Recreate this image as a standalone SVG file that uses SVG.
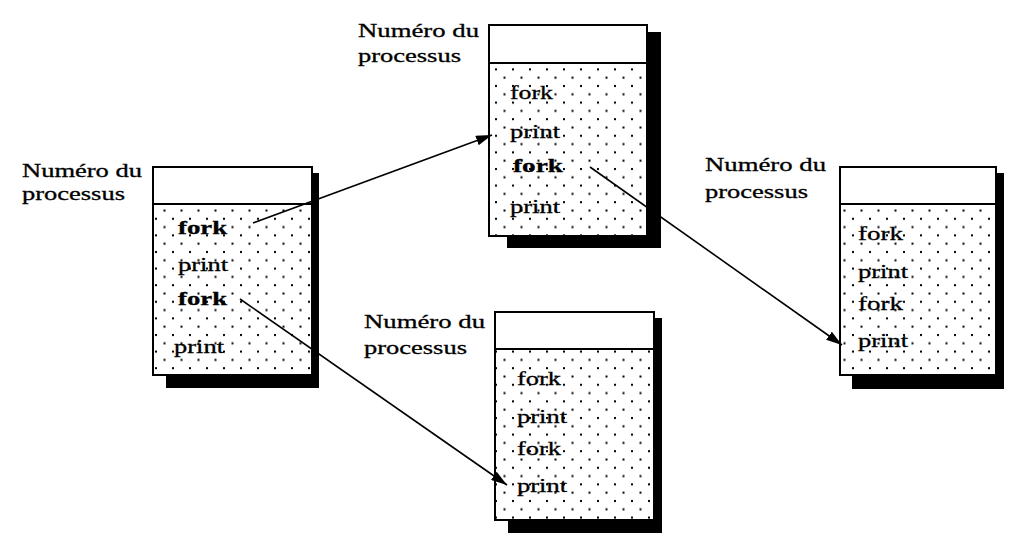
<svg xmlns="http://www.w3.org/2000/svg" width="1024" height="547" viewBox="0 0 1024 547">
<style>
text{font-family:"Liberation Serif","DejaVu Serif",serif;font-size:19px;fill:#000;stroke:#000;stroke-width:0.3}
.b{font-weight:bold}
.box{fill:url(#dots);stroke:#000;stroke-width:2}
.hdr{fill:#fff;stroke:#000;stroke-width:2}
.sh{fill:#000}
.c{stroke:#000;stroke-width:1.6;fill:none;marker-end:url(#ah)}
</style>
<defs>
<pattern id="dots" x="0" y="0" width="17" height="16.6" patternUnits="userSpaceOnUse">
<rect width="17" height="16.6" fill="#fff"/>
<rect x="2" y="2" width="2" height="2" fill="#000"/>
<rect x="10.5" y="10.3" width="2" height="2" fill="#000"/>
</pattern>
<marker id="ah" markerWidth="16" markerHeight="10" refX="16" refY="5" orient="auto" markerUnits="userSpaceOnUse">
<path d="M0,0 L16,5 L0,10 Z" fill="#000"/>
</marker>
</defs>
<rect width="1024" height="547" fill="#fff"/>

<g id="p1">
<text x="22" y="177" textLength="120" lengthAdjust="spacingAndGlyphs">Numéro du</text>
<text x="22" y="200" textLength="103" lengthAdjust="spacingAndGlyphs">processus</text>
<rect class="sh" x="166" y="173" width="153" height="215"/>
<rect class="box" x="153" y="167" width="159" height="208"/>
<rect class="hdr" x="153" y="167" width="159" height="37"/>
<text class="b" x="178" y="234" textLength="49" lengthAdjust="spacingAndGlyphs">fork</text>
<text x="178" y="271" textLength="50" lengthAdjust="spacingAndGlyphs">print</text>
<text class="b" x="178" y="305" textLength="49" lengthAdjust="spacingAndGlyphs">fork</text>
<text x="174" y="353" textLength="50" lengthAdjust="spacingAndGlyphs">print</text>
</g>

<g id="p2">
<text x="358" y="37" textLength="121" lengthAdjust="spacingAndGlyphs">Numéro du</text>
<text x="358" y="62" textLength="103" lengthAdjust="spacingAndGlyphs">processus</text>
<rect class="sh" x="507" y="32" width="154" height="216"/>
<rect class="box" x="489" y="25" width="158" height="211"/>
<rect class="hdr" x="489" y="25" width="158" height="38"/>
<text x="510" y="99" textLength="43" lengthAdjust="spacingAndGlyphs">fork</text>
<text x="510" y="138" textLength="50" lengthAdjust="spacingAndGlyphs">print</text>
<text class="b" x="513" y="172" textLength="50" lengthAdjust="spacingAndGlyphs">fork</text>
<text x="510" y="213" textLength="50" lengthAdjust="spacingAndGlyphs">print</text>
</g>

<g id="p3">
<text x="364" y="328" textLength="121" lengthAdjust="spacingAndGlyphs">Numéro du</text>
<text x="364" y="354" textLength="103" lengthAdjust="spacingAndGlyphs">processus</text>
<rect class="sh" x="508" y="318" width="154" height="215"/>
<rect class="box" x="495" y="312" width="159" height="208"/>
<rect class="hdr" x="495" y="312" width="159" height="37"/>
<text x="517" y="385" textLength="44" lengthAdjust="spacingAndGlyphs">fork</text>
<text x="517" y="423" textLength="50" lengthAdjust="spacingAndGlyphs">print</text>
<text x="517" y="455" textLength="44" lengthAdjust="spacingAndGlyphs">fork</text>
<text x="517" y="492" textLength="50" lengthAdjust="spacingAndGlyphs">print</text>
</g>

<g id="p4">
<text x="705" y="171" textLength="121" lengthAdjust="spacingAndGlyphs">Numéro du</text>
<text x="705" y="198" textLength="103" lengthAdjust="spacingAndGlyphs">processus</text>
<rect class="sh" x="852" y="173" width="152" height="216"/>
<rect class="box" x="840" y="167" width="156" height="208"/>
<rect class="hdr" x="840" y="167" width="156" height="37"/>
<text x="858" y="240" textLength="45" lengthAdjust="spacingAndGlyphs">fork</text>
<text x="858" y="278" textLength="50" lengthAdjust="spacingAndGlyphs">print</text>
<text x="858" y="310" textLength="45" lengthAdjust="spacingAndGlyphs">fork</text>
<text x="858" y="347" textLength="50" lengthAdjust="spacingAndGlyphs">print</text>
</g>

<g id="connectors">
<line class="c" x1="253" y1="223" x2="492" y2="135"/>
<line class="c" x1="240" y1="299" x2="507" y2="485"/>
<line class="c" x1="590" y1="167" x2="842" y2="345"/>
</g>
</svg>
